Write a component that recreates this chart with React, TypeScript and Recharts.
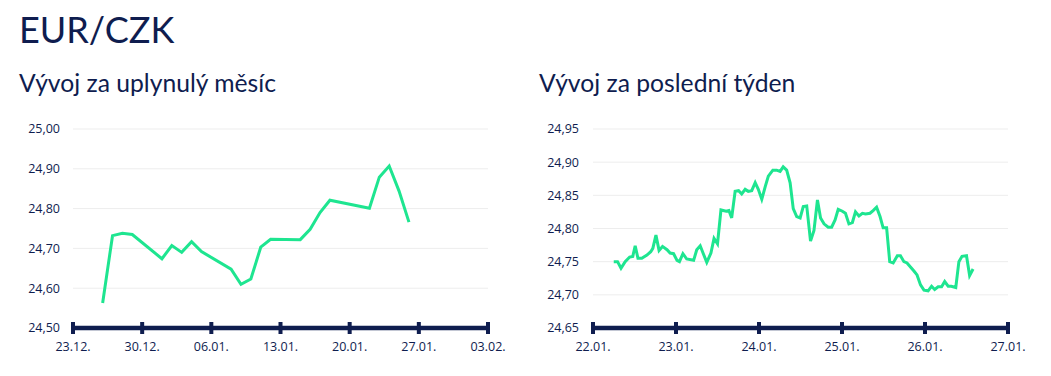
import { CartesianGrid, Line, LineChart, XAxis, YAxis } from "recharts";

const NAVY = "#0f1d4f";
const GREEN = "#1ee590";
const GRID = "#ededed";

// last month, daily fixings
const monthDates = [
  "2024-12-26", "2024-12-27", "2024-12-28", "2024-12-29", "2025-01-01",
  "2025-01-02", "2025-01-03", "2025-01-04", "2025-01-05", "2025-01-08",
  "2025-01-09", "2025-01-10", "2025-01-11", "2025-01-12", "2025-01-15",
  "2025-01-16", "2025-01-17", "2025-01-18", "2025-01-22", "2025-01-23",
  "2025-01-24", "2025-01-25", "2025-01-26",
];
const monthRates = [
  24.563, 24.732, 24.738, 24.735, 24.674,
  24.707, 24.69, 24.717, 24.692, 24.648,
  24.61, 24.623, 24.703, 24.723, 24.722,
  24.748, 24.79, 24.821, 24.801, 24.879,
  24.907, 24.844, 24.766,
];
const monthTickDates = [
  "2024-12-23", "2024-12-30", "2025-01-06", "2025-01-13",
  "2025-01-20", "2025-01-27", "2025-02-03",
];
const monthYTicks = [24.5, 24.6, 24.7, 24.8, 24.9, 25.0];

// last week, hours since 22.01. 00:00
const weekHours = [
  6, 7.1, 8.1, 9.3, 10.6, 11.5, 12.2, 13, 14.1, 15.6, 16.7, 17.3, 18.2, 19.1,
  20.1, 21.4, 22.3, 23.3, 24.3, 25, 26, 27.1, 29.1, 30, 31, 31.9, 32.9, 34.1,
  35, 36, 37, 38.5, 39.3, 40.1, 41.1, 42.1, 43, 44, 44.9, 45.9, 46.9, 47.8,
  48.8, 49.8, 50.7, 52, 53.1, 54.1, 55, 56, 57, 57.9, 58.9, 59.9, 60.8, 61.8,
  62.9, 63.9, 64.9, 65.8, 66.8, 68, 69, 70, 70.9, 72.1, 73, 74, 75, 75.9,
  76.9, 77.9, 78.8, 80.1, 81, 82, 83, 83.9, 84.9, 85.8, 86.8, 88, 88.9, 89.9,
  90.8, 91.8, 92.8, 93.7, 94.7, 95.7, 96.9, 97.9, 98.8, 99.8, 100.8, 101.7,
  102.7, 103.6, 104.9, 105.8, 106.7, 108, 108.9, 109.9,
];
const weekRates = [
  24.75, 24.75, 24.74, 24.75, 24.757, 24.758, 24.774, 24.755, 24.755, 24.76,
  24.765, 24.77, 24.79, 24.767, 24.773, 24.768, 24.763, 24.762, 24.752, 24.75,
  24.762, 24.754, 24.752, 24.768, 24.774, 24.762, 24.749, 24.763, 24.785,
  24.777, 24.828, 24.826, 24.827, 24.816, 24.856, 24.857, 24.852, 24.859,
  24.856, 24.857, 24.869, 24.859, 24.844, 24.863, 24.879, 24.888, 24.888,
  24.886, 24.893, 24.888, 24.869, 24.83, 24.818, 24.816, 24.833, 24.834,
  24.781, 24.797, 24.843, 24.816, 24.807, 24.802, 24.802, 24.813, 24.829,
  24.826, 24.823, 24.807, 24.809, 24.825, 24.819, 24.823, 24.822, 24.823,
  24.827, 24.832, 24.818, 24.801, 24.801, 24.75, 24.748, 24.759, 24.759,
  24.75, 24.748, 24.742, 24.736, 24.73, 24.715, 24.707, 24.706, 24.713,
  24.708, 24.712, 24.712, 24.72, 24.713, 24.713, 24.711, 24.75, 24.758,
  24.759, 24.729, 24.739,
];
const weekTickLabels = ["22.01.", "23.01.", "24.01.", "25.01.", "26.01.", "27.01."];
const weekYTicks = [24.65, 24.7, 24.75, 24.8, 24.85, 24.9, 24.95];

const toTime = (d: string) => Date.parse(d);
const dayLabel = (t: number) => {
  const d = new Date(t);
  const dd = String(d.getUTCDate()).padStart(2, "0");
  const mm = String(d.getUTCMonth() + 1).padStart(2, "0");
  return `${dd}.${mm}.`;
};
const rateLabel = (v: number) => v.toFixed(2).replace(".", ",");

const monthData = monthDates.map((d, i) => ({ t: toTime(d), rate: monthRates[i] }));
const monthTicks = monthTickDates.map(toTime);
const weekData = weekHours.map((h, i) => ({ h, rate: weekRates[i] }));
const weekTicks = weekTickLabels.map((_, i) => i * 24);

const tickFont = "'Open Sans', sans-serif";

function AxisTick(props: any) {
  const { x, y, payload, format } = props;
  return (
    <g>
      <rect x={x - 2} y={y - 6} width={4} height={12} fill={NAVY} />
      <text
        x={x}
        y={y + 23}
        textAnchor="middle"
        fill={NAVY}
        fontSize={12.5}
        fontFamily={tickFont}
      >
        {format(payload.value)}
      </text>
    </g>
  );
}

type PanelProps = {
  data: any[];
  xKey: string;
  xDomain: [number, number];
  xTicks: number[];
  xFormat: (v: number) => string;
  yDomain: [number, number];
  yTicks: number[];
  tickMargin: number;
};

function RatePanel({ data, xKey, xDomain, xTicks, xFormat, yDomain, yTicks, tickMargin }: PanelProps) {
  return (
    <LineChart
      width={530}
      height={248}
      data={data}
      margin={{ top: 19, right: 42, left: 0, bottom: 0 }}
    >
      <CartesianGrid stroke={GRID} vertical={false} />
      <XAxis
        dataKey={xKey}
        type="number"
        domain={xDomain}
        ticks={xTicks}
        interval={0}
        height={30}
        axisLine={{ stroke: NAVY, strokeWidth: 4.5 }}
        tickLine={false}
        tickSize={0}
        tickMargin={0}
        tick={<AxisTick format={xFormat} />}
      />
      <YAxis
        type="number"
        domain={yDomain}
        ticks={yTicks}
        interval={0}
        width={73}
        axisLine={false}
        tickLine={false}
        tickMargin={tickMargin}
        tickFormatter={rateLabel}
        tick={{ fill: NAVY, fontSize: 12.5, fontFamily: tickFont }}
      />
      <Line
        type="linear"
        dataKey="rate"
        stroke={GREEN}
        strokeWidth={3}
        dot={false}
        isAnimationActive={false}
      />
    </LineChart>
  );
}

export default function App() {
  const heading = { position: "absolute" as const, margin: 0, color: NAVY, fontFamily: "Lato, sans-serif", fontWeight: 400, lineHeight: 1, whiteSpace: "nowrap" as const };
  return (
    <div style={{ position: "absolute", left: 0, top: 0, width: 1051, height: 376, background: "#fff", overflow: "hidden" }}>
      <div style={{ ...heading, left: 19, top: 11, fontSize: 36 }}>EUR/CZK</div>
      <div style={{ ...heading, left: 19, top: 71, fontSize: 24.7 }}>Vývoj za uplynulý měsíc</div>
      <div style={{ ...heading, left: 539, top: 71, fontSize: 24.7 }}>Vývoj za poslední týden</div>
      <div style={{ position: "absolute", left: 0, top: 110 }}>
        <RatePanel
          data={monthData}
          xKey="t"
          xDomain={[monthTicks[0], monthTicks[monthTicks.length - 1]]}
          xTicks={monthTicks}
          xFormat={dayLabel}
          yDomain={[24.5, 25.0]}
          yTicks={monthYTicks}
          tickMargin={7}
        />
      </div>
      <div style={{ position: "absolute", left: 520, top: 110 }}>
        <RatePanel
          data={weekData}
          xKey="h"
          xDomain={[0, 120]}
          xTicks={weekTicks}
          xFormat={(v) => weekTickLabels[Math.round(v / 24)]}
          yDomain={[24.65, 24.95]}
          yTicks={weekYTicks}
          tickMargin={8}
        />
      </div>
    </div>
  );
}
